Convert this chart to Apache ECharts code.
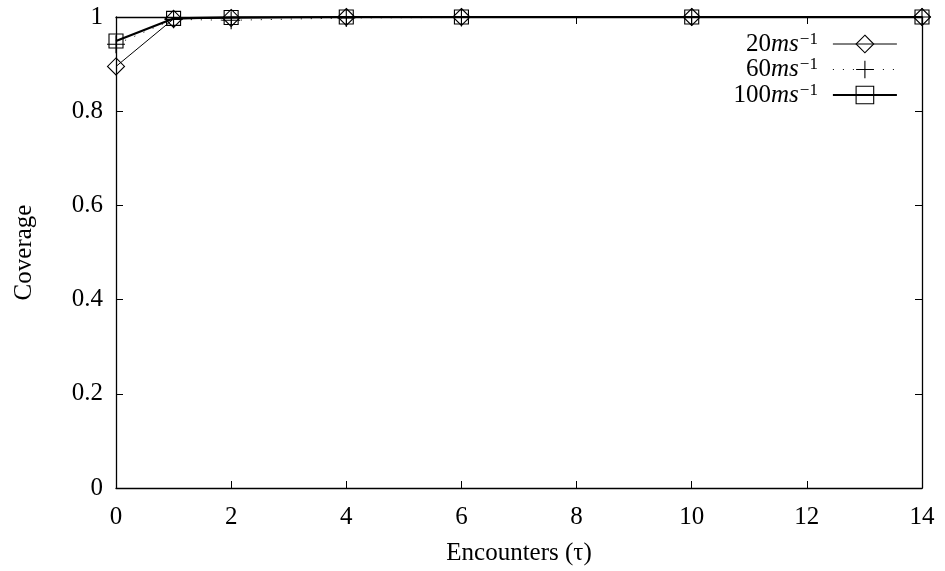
<!DOCTYPE html>
<html>
<head>
<meta charset="utf-8">
<script src="https://cdn.jsdelivr.net/npm/echarts@6/dist/echarts.min.js"></script>
<style>
  html, body { margin: 0; padding: 0; background: #fff; }
  #chart { width: 945px; height: 571px; }
</style>
</head>
<body>
<div id="chart"></div>
<script>
// Coverage vs. number of encounters for three speeds
const encounters = [0, 1, 2, 4, 6, 10, 14];
const coverage20 = [0.895, 0.996, 0.998, 1.0, 1.0, 1.0, 1.0];
const coverage60 = [0.942, 0.995, 0.993, 0.998, 0.999, 1.0, 1.0];
const coverage100 = [0.949, 0.997, 0.999, 1.0, 1.0, 1.0, 1.0];
const speedLabels = ['20', '60', '100'];
const xTicks = [0, 2, 4, 6, 8, 10, 12, 14];
const yTicks = [0, 0.2, 0.4, 0.6, 0.8, 1];

const FONT = '"Liberation Serif", "DejaVu Serif", serif';
const FS = 25;
const pairs = (ys) => encounters.map((x, i) => [x, ys[i]]);
const seriesNames = speedLabels.map(s => s + 'ms');

const plusPath = 'path://M0,5L10,5M5,0L5,10';

// per-series look: thin solid, sparse dots, thick solid
const lineStyles = [
  { color: '#000', width: 1 },
  { color: '#000', width: 1, type: [1, 9] },
  { color: '#000', width: 2.2 }
];
const markStyle = { color: 'rgba(0,0,0,0)', borderColor: '#000', borderWidth: 1.1 };

const chart = echarts.init(document.getElementById('chart'), null, { renderer: 'canvas' });

const tickStyle = { show: true, inside: true, length: 7, lineStyle: { color: '#000', width: 1 } };
const axisLine = { show: true, onZero: false, lineStyle: { color: '#000', width: 1.3 } };

chart.setOption({
  animation: false,
  backgroundColor: '#fff',
  grid: { left: 116, right: 23, top: 17, bottom: 82 },
  legend: {
    orient: 'vertical',
    right: 42,
    top: 26,
    align: 'right',
    itemWidth: 64,
    itemHeight: 22,
    itemGap: 0,
    selectedMode: false,
    data: seriesNames.map((n, i) => ({ name: n, lineStyle: lineStyles[i], itemStyle: markStyle })),
    formatter: function (name) {
      const num = name.replace('ms', '');
      return '{n|' + num + '}{i|ms}{s|\u22121}';
    },
    textStyle: {
      fontFamily: FONT,
      color: '#000',
      rich: {
        n: { fontFamily: FONT, fontSize: FS, lineHeight: 26, color: '#000' },
        i: { fontFamily: FONT, fontSize: FS, lineHeight: 26, fontStyle: 'italic', color: '#000' },
        s: { fontFamily: FONT, fontSize: 17, lineHeight: 15, verticalAlign: 'top', color: '#000', padding: [0, 10, 0, 1] }
      }
    }
  },
  xAxis: [
    {
      type: 'value', min: 0, max: 14, interval: 2, position: 'bottom',
      name: 'Encounters (\u03c4)', nameLocation: 'middle', nameGap: 53,
      nameTextStyle: { fontFamily: FONT, fontSize: FS, color: '#000' },
      axisLine: axisLine, axisTick: tickStyle,
      axisLabel: {
        fontFamily: FONT, fontSize: FS, color: '#000', margin: 17,
        formatter: v => xTicks.includes(v) ? String(v) : ''
      },
      splitLine: { show: false }
    },
    {
      type: 'value', min: 0, max: 14, interval: 2, position: 'top',
      axisLine: axisLine, axisTick: tickStyle, axisLabel: { show: false },
      splitLine: { show: false }
    }
  ],
  yAxis: [
    {
      type: 'value', min: 0, max: 1, interval: 0.2, position: 'left',
      name: 'Coverage', nameLocation: 'middle', nameGap: 79,
      nameTextStyle: { fontFamily: FONT, fontSize: FS, color: '#000' },
      axisLine: axisLine, axisTick: tickStyle,
      axisLabel: {
        fontFamily: FONT, fontSize: FS, color: '#000', margin: 13,
        formatter: v => {
          const t = yTicks.find(y => Math.abs(y - v) < 1e-9);
          return t === undefined ? '' : String(t);
        }
      },
      splitLine: { show: false }
    },
    {
      type: 'value', min: 0, max: 1, interval: 0.2, position: 'right',
      axisLine: axisLine, axisTick: tickStyle, axisLabel: { show: false },
      splitLine: { show: false }
    }
  ],
  series: [
    {
      name: seriesNames[0], type: 'line', data: pairs(coverage20), clip: false,
      symbol: 'diamond', symbolSize: 17,
      lineStyle: lineStyles[0],
      itemStyle: markStyle,
      z: 3
    },
    {
      name: seriesNames[1], type: 'line', data: pairs(coverage60), clip: false,
      symbol: plusPath, symbolSize: 18,
      lineStyle: lineStyles[1],
      itemStyle: markStyle,
      z: 4
    },
    {
      name: seriesNames[2], type: 'line', data: pairs(coverage100), clip: false,
      symbol: 'rect', symbolSize: 14,
      lineStyle: lineStyles[2],
      itemStyle: markStyle,
      z: 5
    }
  ]
});
</script>
</body>
</html>
